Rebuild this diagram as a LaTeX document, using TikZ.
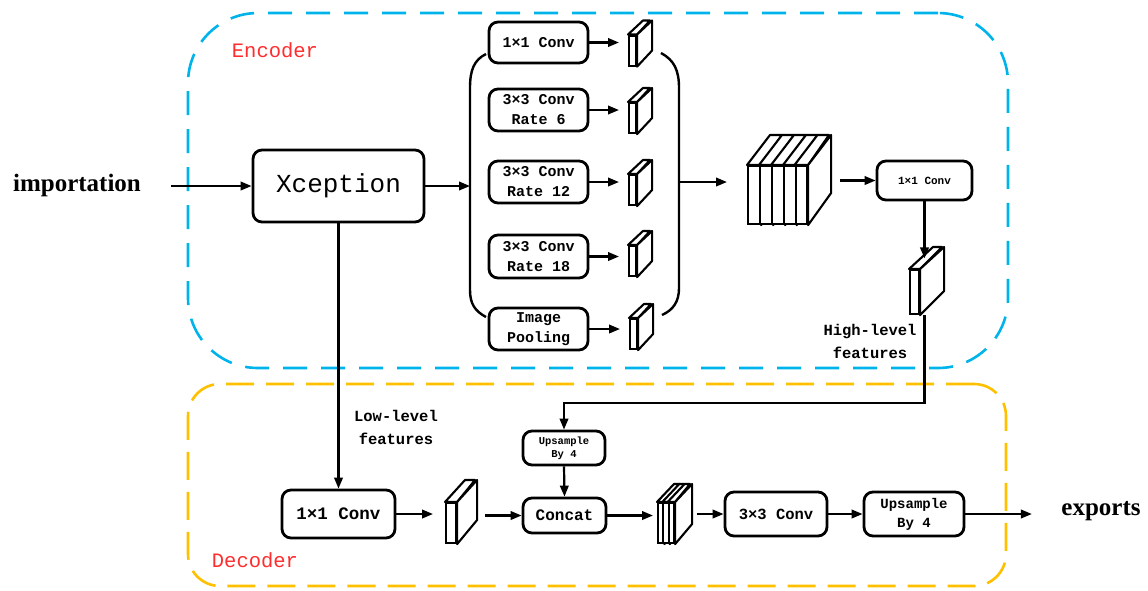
\documentclass[tikz,border=0pt]{standalone}
\usepackage{fontspec}
\setmainfont{Liberation Serif}
\setmonofont{Liberation Mono}
\usetikzlibrary{arrows.meta,calc}
\definecolor{enccol}{RGB}{0,180,235}
\definecolor{deccol}{RGB}{255,192,0}
\definecolor{labcol}{RGB}{255,45,45}
% name, x, y, w, h, dx, dy
\newcommand\fslab[7]{%
  \node[slabface, minimum width=#4, minimum height=#5, anchor=north west] (#1) at (#2,#3) {};
  \filldraw[slabline] (#1.north west) -- ++(#6,-#7) -- ++(#4,0) -- (#1.north east) -- cycle;
  \filldraw[slabline] (#1.north east) -- ++(#6,-#7) -- ++(0,#5) -- (#1.south east) -- cycle;
}
\tikzset{
  box/.style={draw, line width=2.8pt, rounded corners=9pt, fill=white, inner sep=0pt, align=center},
  bfont/.style 2 args={font=\ttfamily\bfseries\fontsize{#1}{#2}\selectfont},
  slabface/.style={draw, fill=white, line width=2.1pt, inner sep=0pt},
  slabline/.style={draw, fill=white, line width=2.1pt, line join=round},
  arr/.style={line width=2.2pt, -{Triangle[length=11pt,width=8.5pt]}},
  plain/.style={line width=2.4pt},
  encbox/.style={draw=enccol, line width=2.6pt, dash pattern=on 24pt off 14pt, rounded corners=70pt, inner sep=0pt},
  decbox/.style={draw=deccol, line width=2.6pt, dash pattern=on 28pt off 12pt, rounded corners=32pt, inner sep=0pt},
  lbl/.style={font=\ttfamily\fontsize{20.5}{24}\selectfont, text=labcol},
  io/.style={font=\bfseries\fontsize{25}{30}\selectfont},
  feat/.style={font=\ttfamily\bfseries\fontsize{15.5}{23}\selectfont, align=center}
}
\begin{document}
\begin{tikzpicture}[x=1pt,y=-1pt]
\useasboundingbox (0,0) rectangle (1148,590);

% dashed frames
\node[encbox, minimum width=820pt, minimum height=355pt] (enc) at (598,190.5) {};
\node[decbox, minimum width=818pt, minimum height=202pt] (dec) at (597,485) {};
\node[lbl] (enct) at (275,50) {Encoder};
\node[lbl] (dect) at (255,560) {Decoder};

% input / Xception
\node[io] (imp) at (77,185) {importation};
\node[box, minimum width=171pt, minimum height=72pt, font=\ttfamily\fontsize{26}{30}\selectfont] (xcep) at (338.5,186) {Xception};
\draw[arr, shorten <=27pt] (imp.east |- xcep.west) -- (xcep.west);

% branches
\node[box, bfont={15}{20}, minimum width=99pt, minimum height=41pt] (b1) at (538.5,42.5) {1×1 Conv};
\node[box, bfont={15}{20}, minimum width=99pt, minimum height=42pt] (b2) at (538.5,110) {3×3 Conv\\Rate 6};
\node[box, bfont={15}{20}, minimum width=99pt, minimum height=42pt] (b3) at (538.5,182) {3×3 Conv\\Rate 12};
\node[box, bfont={15}{20}, minimum width=99pt, minimum height=43pt] (b4) at (538.5,256.5) {3×3 Conv\\Rate 18};
\node[box, bfont={15}{20}, minimum width=99pt, minimum height=42pt] (b5) at (538.5,329) {Image\\Pooling};

\fslab{s1}{628}{34.5}{7}{30}{15}{14}
\fslab{s2}{628}{102}{7}{30}{15}{14}
\fslab{s3}{628}{174}{7}{30}{15}{14}
\fslab{s4}{628}{245}{7}{30}{15}{14}
\fslab{s5}{629}{318}{7}{30}{15}{14}

\foreach \i in {1,...,5}{
  \draw[arr, shorten >=9pt] (b\i.east) -- (b\i.east -| s\i.west);
}

% brackets
\coordinate (brL) at (470,186);
\coordinate (brR) at (679,182);
\draw[plain] (486,54) .. controls (474,60) and (470,70) .. (470,88) -- (470,290) .. controls (470,304) and (475,311) .. (486,317);
\draw[plain] (661,53) .. controls (674,60) and (679,70) .. (679,88) -- (679,288) .. controls (679,302) and (673,310) .. (662,315);
\draw[arr] (xcep.east) -- (xcep.east -| brL);

% big stack
\fslab{st1}{747}{165}{12}{58}{23}{30}
\fslab{st2}{759}{165}{12}{58}{23}{30}
\fslab{st3}{771}{165}{12}{58}{23}{30}
\fslab{st4}{783}{165}{11.5}{58}{23}{30}
\fslab{st5}{794.5}{165}{11.5}{58}{23}{30}
\draw[arr, shorten >=20pt] (brR) -- (brR -| st1.west);

\node[box, bfont={11}{13}, minimum width=95pt, minimum height=39pt] (c1) at (924.5,180.5) {1×1 Conv};
\path (st5.east) ++(32,0) coordinate (stR);
\draw[arr] (stR |- c1.west) -- (c1.west);

\fslab{hs}{909}{269}{9}{44}{24}{22}
\draw[arr] (c1.south) -- ++(0,57);
\node[feat] (hlt) at (870,341) {High-level\\features};

% decoder
\node[box, bfont={17.5}{20}, minimum width=113pt, minimum height=48pt] (d1) at (338.5,514) {1×1 Conv};
\draw[arr] (xcep.south) -- (d1.north);
\node[feat] (llt) at (396,427) {Low-level\\features};

\fslab{ds}{445}{502}{10}{40}{20}{22}
\draw[arr, shorten >=12pt] (d1.east) -- (d1.east -| ds.west);

\node[box, bfont={16}{19}, minimum width=83pt, minimum height=35pt] (concat) at (564.5,515.5) {Concat};
\path (ds.east) ++(28,0) coordinate (dsR);
\draw[arr] (dsR |- concat.west) -- (concat.west);

\node[box, bfont={10.5}{13}, minimum width=82pt, minimum height=34pt] (up1) at (564,448) {Upsample\\By 4};
\draw[arr] (up1.south) -- (concat.north);
\draw[arr] (hs.south -| c1.south) -- ++(0,88) -| (up1.north);

\fslab{cs1}{657}{502}{5.3}{40}{17}{18}
\fslab{cs2}{662.3}{502}{5.3}{40}{17}{18}
\fslab{cs3}{667.6}{502}{5.4}{40}{17}{18}
\draw[arr, shorten >=4pt] (concat.east) -- (concat.east -| cs1.west);

\node[box, bfont={15.5}{19}, minimum width=102pt, minimum height=44pt] (conv3) at (776,514) {3×3 Conv};
\path (cs3.east) ++(22,0) coordinate (csR);
\draw[arr] (csR |- conv3.west) -- (conv3.west);

\node[box, bfont={14}{19}, minimum width=100pt, minimum height=44pt] (up2) at (914,514) {Upsample\\By 4};
\draw[arr] (conv3.east) -- (up2.west);

\node[io] (exp) at (1101,511) {exports};
\draw[arr, shorten >=26pt] (up2.east) -- (up2.east -| exp.west);
\end{tikzpicture}
\end{document}
